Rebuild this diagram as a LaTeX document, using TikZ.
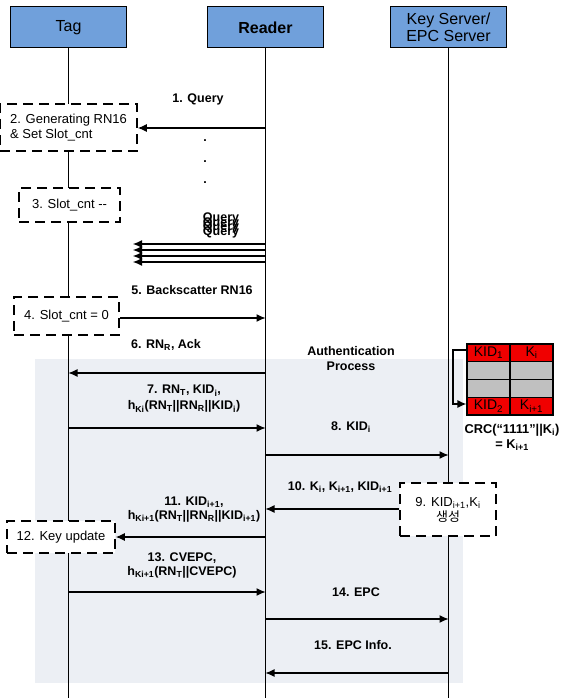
\documentclass[tikz,border=0pt]{standalone}
\usepackage{fontspec}
\setmainfont{Liberation Sans}
\newfontfamily\krfont{Noto Sans CJK KR}
\usetikzlibrary{arrows.meta}
\definecolor{hdrblue}{RGB}{112,160,219}
\definecolor{authgrey}{RGB}{236,239,244}
\definecolor{cellred}{RGB}{240,0,0}
\definecolor{cellgrey}{RGB}{192,192,192}
\newcommand\sbs[1]{\textsubscript{#1}}
\tikzset{
  hdr/.style={draw, line width=1pt, fill=hdrblue, minimum width=116pt, minimum height=41pt, inner sep=1pt, align=center, font=\fontsize{16}{17}\selectfont},
  life/.style={line width=1.8pt},
  dbox/.style={draw, line width=1.6pt, dash pattern=on 10pt off 6pt, fill=white, align=left, inner sep=2pt, font=\fontsize{13}{15}\selectfont},
  msg/.style={align=center, inner sep=0pt, font=\bfseries\fontsize{12.5}{14}\selectfont},
  arr/.style={line width=1.1pt, -{Latex[length=9pt,width=8pt]}},
  cell/.style={draw, line width=1.2pt, minimum width=43pt, minimum height=17.75pt, inner sep=0pt, font=\fontsize{14}{15}\selectfont},
}
\begin{document}
\begin{tikzpicture}[x=1pt,y=-1pt]
\useasboundingbox (0,0) rectangle (561,698);
% authentication region
\fill[authgrey] (35,359) rectangle (463,683);
% headers
\node[hdr] (tag) at (68.5,27.5) {Tag};
\node[hdr, font=\bfseries\fontsize{16}{17}\selectfont] (reader) at (265.5,27.5) {Reader};
\node[hdr] (key) at (448.5,27.5) {Key Server/\\EPC Server};
% lifeline ends
\coordinate (tagEnd) at (68.5,698);
\coordinate (readerEnd) at (265.5,698);
\coordinate (keyEnd) at (448.5,698);
\draw[life] (tag.south) -- (tagEnd);
\draw[life] (reader.south) -- (readerEnd);
\draw[life] (key.south) -- (keyEnd);
% tag boxes
\node[dbox, minimum width=137pt, minimum height=47pt] (b2) at (68.5,127.5) {2. Generating RN16\\\& Set Slot\_cnt};
\node[dbox, minimum width=101pt, minimum height=34pt, align=center] (b3) at (69.5,205) {3. Slot\_cnt -{}-};
\node[dbox, minimum width=105pt, minimum height=38pt, align=center] (b4) at (66.5,316) {4. Slot\_cnt = 0};
\node[dbox, minimum width=108pt, minimum height=32pt, align=center] (b12) at (61,537) {12. Key update};
\node[dbox, minimum width=96pt, minimum height=53pt, align=center] (b9) at (448,509.5) {9. KID\sbs{i+1},K\sbs{i}\\{\krfont 생성}};
% 1. Query
\node[msg] (l1) at (198,99) {1. Query};
\coordinate (r1) at (265.5,128);
\draw[arr] (r1) -- (b2.east |- r1);
% dots
\node[msg] (d1) at (205,141) {.};
\node[msg] (d2) at (205,162) {.};
\node[msg] (d3) at (205,183) {.};
% query stack (overlapping, as in the original)
\node[msg] (qa) at (221,218.5) {Query};
\node[msg] (qb) at (221,223) {Query};
\node[msg] (qc) at (221,227.5) {Query};
\node[msg] (qd) at (221,232) {Query};
\foreach \yy [count=\i] in {244,250,256,262}{
  \coordinate (qs\i) at (265.5,\yy);
  \coordinate (qe\i) at (133,\yy);
  \draw[arr] (qs\i) -- (qe\i);
}
% 5. Backscatter
\node[msg] (l5) at (192,290) {5. Backscatter RN16};
\coordinate (r5) at (265.5,318);
\draw[arr] (b4.east |- r5) -- (r5);
% 6
\node[msg] (l6) at (166,345) {6. RN\sbs{R}, Ack};
\coordinate (r6) at (265.5,373);
\coordinate (t6) at (68.5,373);
\draw[arr] (r6) -- (t6);
% auth process
\node[msg, font=\bfseries\fontsize{12.5}{15}\selectfont] (auth) at (351,358.5) {Authentication\\Process};
% 7
\node[msg, font=\bfseries\fontsize{12.5}{16}\selectfont] (l7) at (184,399) {7. RN\sbs{T}, KID\sbs{i},\\h\sbs{Ki}(RN\sbs{T}||RN\sbs{R}||KID\sbs{i})};
\coordinate (t7) at (68.5,428);
\coordinate (r7) at (265.5,428);
\draw[arr] (t7) -- (r7);
% 8
\node[msg] (l8) at (351,427) {8. KID\sbs{i}};
\coordinate (r8) at (265.5,455);
\coordinate (k8) at (448.5,455);
\draw[arr] (r8) -- (k8);
% table
\node[cell, fill=cellred] (c11) at (488.5,352.9) {KID\sbs{1}};
\node[cell, fill=cellred] (c12) at (531.5,352.9) {K\sbs{i}};
\node[cell, fill=cellgrey] (c21) at (488.5,370.6) {};
\node[cell, fill=cellgrey] (c22) at (531.5,370.6) {};
\node[cell, fill=cellgrey] (c31) at (488.5,388.4) {};
\node[cell, fill=cellgrey] (c32) at (531.5,388.4) {};
\node[cell, fill=cellred] (c41) at (488.5,406.1) {KID\sbs{2}};
\node[cell, fill=cellred] (c42) at (531.5,406.1) {K\sbs{i+1}};
\coordinate (lp1) at (453,350);
\coordinate (lp2) at (453,404);
\draw[line width=1.2pt, -{Latex[length=9pt,width=8pt]}] (c11.west |- lp1) -- (lp1) -- (lp2) -- (c41.west |- lp2);
\node[msg, font=\bfseries\fontsize{12.8}{15}\selectfont] (crc) at (512,437.5) {CRC(“1111”||K\sbs{i})\\= K\sbs{i+1}};
% 10
\node[msg] (l10) at (340,487) {10. K\sbs{i}, K\sbs{i+1}, KID\sbs{i+1}};
\coordinate (r10) at (265.5,509);
\draw[arr] (b9.west |- r10) -- (r10);
% 11
\node[msg, font=\bfseries\fontsize{12.5}{13.5}\selectfont] (l11) at (194,509.5) {11. KID\sbs{i+1},\\h\sbs{Ki+1}(RN\sbs{T}||RN\sbs{R}||KID\sbs{i+1})};
\coordinate (r11) at (265.5,537);
\draw[arr] (r11) -- (b12.east |- r11);
% 13
\node[msg, font=\bfseries\fontsize{12.5}{13.5}\selectfont] (l13) at (182,565.5) {13. CVEPC,\\h\sbs{Ki+1}(RN\sbs{T}||CVEPC)};
\coordinate (t13) at (68.5,592);
\coordinate (r13) at (265.5,592);
\draw[arr] (t13) -- (r13);
% 14
\node[msg] (l14) at (356,592) {14. EPC};
\coordinate (r14) at (265.5,619);
\coordinate (k14) at (448.5,619);
\draw[arr] (r14) -- (k14);
% 15
\node[msg] (l15) at (353,645) {15. EPC Info.};
\coordinate (k15) at (448.5,673);
\coordinate (r15) at (265.5,673);
\draw[arr] (k15) -- (r15);
\end{tikzpicture}
\end{document}
